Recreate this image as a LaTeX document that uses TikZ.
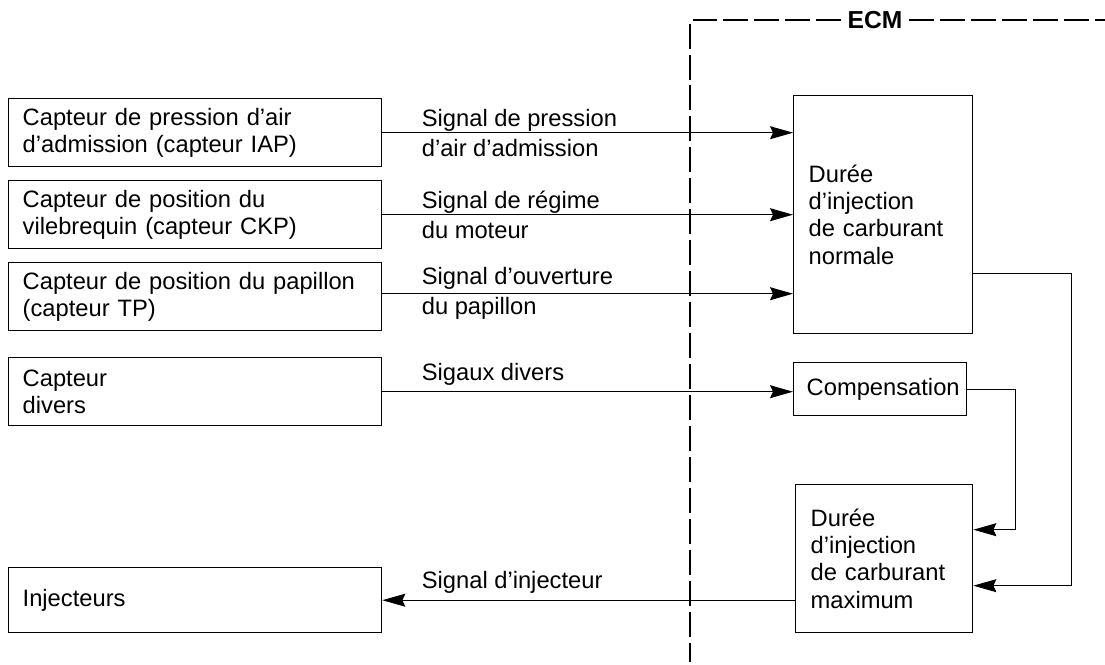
\documentclass[tikz,border=0pt]{standalone}
\usepackage{fontspec}
\setmainfont{Liberation Sans}
\usetikzlibrary{arrows.meta}

\begin{document}
\begin{tikzpicture}[x=0.02cm,y=-0.02cm,
  font=\fontsize{13.5}{15.5}\selectfont,
  box/.style={draw,line width=0.8pt,anchor=north west,align=left,inner ysep=0pt},
  sensor/.style={box,text width=6.9cm,inner xsep=0.28cm,minimum height=1.36cm},
  ecu/.style={box,text width=2.98cm,inner xsep=0.3cm},
  sig/.style={line width=0.6pt,-{Stealth[length=0.46cm,width=0.26cm,inset=0.06cm]}},
  lbl/.style={anchor=west,align=left,inner sep=0pt,font=\fontsize{13.5}{17}\selectfont},
  frame/.style={line width=0.6pt,dash pattern=on 0.5cm off 0.12cm}]
\useasboundingbox (0,0) rectangle (1105,664);

% sensors
\node[sensor] (iap) at (8,98) {Capteur de pression d'air\\d'admission (capteur IAP)};
\node[sensor] (ckp) at (8,180) {Capteur de position du\\vilebrequin (capteur CKP)};
\node[sensor] (tp) at (8,262) {Capteur de position du papillon\\(capteur TP)};
\node[sensor] (div) at (8,357) {Capteur\\divers};
\node[sensor,minimum height=1.3cm] (inj) at (8,567) {Injecteurs};

% ECM
\node[font=\fontsize{14}{16}\selectfont\bfseries] (ecm) at (875,20) {ECM};
\draw[frame] (ecm.west) -- (690,20) -- (690,662);
\draw[frame] (ecm.east) -- (1105,20);

\node[ecu,minimum height=4.76cm] (norm) at (793,95) {Durée\\d'injection\\de carburant\\normale};
\node[ecu,minimum height=1.06cm,text width=2.94cm,inner xsep=0.26cm] (comp) at (793,362) {Compensation};
\node[ecu,minimum height=2.96cm,text width=2.94cm] (max) at (795,484) {Durée\\d'injection\\de carburant\\maximum};

% signals
\draw[sig] (iap.east) -- (iap.east -| norm.west)
  node[lbl,pos=0,xshift=0.78cm] (liap) {Signal de pression\\d'air d'admission};
\draw[sig] (ckp.east) -- (ckp.east -| norm.west)
  node[lbl,pos=0,xshift=0.78cm] (lckp) {Signal de régime\\du moteur};
\draw[sig] ([yshift=0.06cm]tp.east) -- ([yshift=0.06cm]tp.east -| norm.west)
  node[lbl,pos=0,xshift=0.78cm] (ltp) {Signal d'ouverture\\du papillon};
\draw[sig] (div.east) -- (div.east -| comp.west)
  node[lbl,pos=0,xshift=0.78cm,anchor=south west,yshift=0.12cm] (ldiv) {Sigaux divers};
\draw[sig] (max.west |- inj.east) -- (inj.east)
  node[lbl,pos=1,xshift=0.78cm,anchor=south west,yshift=0.12cm] (linj) {Signal d'injecteur};

% feedback
\draw[sig] ([yshift=-1.18cm]norm.east) -- ++(98,0) |- ([yshift=-0.54cm]max.east);
\draw[sig] (comp.east) -- ++(48,0) |- ([yshift=0.58cm]max.east);
\end{tikzpicture}
\end{document}
